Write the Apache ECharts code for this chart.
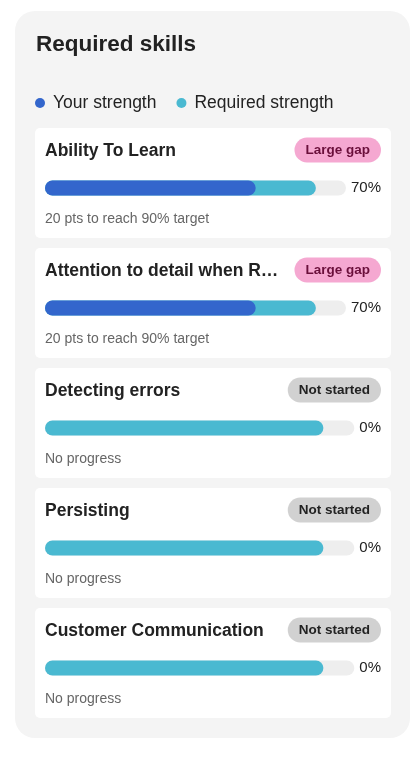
<!DOCTYPE html>
<html>
<head>
<meta charset="utf-8">
<script src="https://cdn.jsdelivr.net/npm/echarts@6/dist/echarts.min.js"></script>
<style>
html,body{margin:0;padding:0;background:#ffffff;}
#main{width:418px;height:757px;}
</style>
</head>
<body>
<div id="main"></div>
<script>
// ---- data ----
const chartTitle = "Required skills";
const skills = ["Ability To Learn", "Attention to detail when Reviewing", "Detecting errors", "Persisting", "Customer Communication"];
const yourStrength = [70, 70, 0, 0, 0];
const requiredStrength = [90, 90, 90, 90, 90];
const status = ["Large gap", "Large gap", "Not started", "Not started", "Not started"];
const legendNames = ["Your strength", "Required strength"];

// ---- styling ----
const FONT = '"Liberation Sans", Arial, sans-serif';
const BLUE = '#3366cc', CYAN = '#4ab9d1', TRACK = '#eeeeee';
const badgeStyles = {
  "Large gap": { bg: '#f5a8d1', fg: '#6a0f3b' },
  "Not started": { bg: '#d1d1d1', fg: '#222222' }
};

const chart = echarts.init(document.getElementById('main'), null, { renderer: 'canvas' });
const W = 418;
const ctx = document.createElement('canvas').getContext('2d');
ctx.font = '15px ' + FONT;

const cardX = 35, cardW = 356, cardH = 110, cardStep = 120, firstCardTop = 128;
const grids = [], xAxes = [], yAxes = [], series = [];
const graphics = [
  { type: 'rect', shape: { x: 15, y: 11, width: 395, height: 727, r: 20 }, style: { fill: '#f4f4f4' }, z: 0 },
  { type: 'text', x: 36, y: 45, style: { text: chartTitle, fontSize: 22.5, fontWeight: 'bold', fontFamily: FONT, fill: '#222', verticalAlign: 'middle' }, z: 2 }
];

skills.forEach((name, i) => {
  const top = firstCardTop + i * cardStep;
  const label = yourStrength[i] + '%';
  const lw = ctx.measureText(label).width;
  const trackRight = cardX + cardW - 10 - 5 - lw;
  grids.push({ left: 45, top: top + 52, height: 16, right: W - trackRight, containLabel: false });
  xAxes.push({ type: 'value', gridIndex: i, min: 0, max: 100, show: false });
  yAxes.push({ type: 'category', gridIndex: i, data: [name], show: false });
  const common = { type: 'bar', xAxisIndex: i, yAxisIndex: i, barWidth: 15, barGap: '-100%', silent: true, animation: false };
  series.push(Object.assign({}, common, {
    name: 'track', data: [100],
    itemStyle: { color: TRACK, borderRadius: 7.5 },
    label: { show: true, position: 'right', distance: 5, formatter: label, fontSize: 15, color: '#222', fontFamily: FONT }
  }));
  series.push(Object.assign({}, common, {
    name: legendNames[1], data: [requiredStrength[i]],
    itemStyle: { color: CYAN, borderRadius: 7.5 }
  }));
  series.push(Object.assign({}, common, {
    name: legendNames[0], data: [yourStrength[i]],
    itemStyle: { color: BLUE, borderRadius: 7.5 }
  }));

  const gap = requiredStrength[i] - yourStrength[i];
  const note = yourStrength[i] > 0 ? (gap + ' pts to reach ' + requiredStrength[i] + '% target') : 'No progress';
  const bs = badgeStyles[status[i]];
  graphics.push({ type: 'rect', shape: { x: cardX, y: top, width: cardW, height: cardH, r: 5 }, style: { fill: '#ffffff' }, z: 1 });
  graphics.push({ type: 'text', x: 45, y: top + 23, style: { text: name, width: 240, overflow: 'truncate', ellipsis: '…', fontSize: 17.5, fontWeight: 'bold', fontFamily: FONT, fill: '#222', verticalAlign: 'middle' }, z: 2 });
  graphics.push({ type: 'text', x: 381, y: top + 22, style: { text: status[i], align: 'right', verticalAlign: 'middle', fontSize: 13.5, fontWeight: 'bold', fontFamily: FONT, fill: bs.fg, backgroundColor: bs.bg, padding: [5, 11, 5, 11], lineHeight: 15, borderRadius: 12.5 }, z: 2 });
  graphics.push({ type: 'text', x: 45, y: top + 91, style: { text: note, fontSize: 14, fontFamily: FONT, fill: '#666', verticalAlign: 'middle' }, z: 2 });
});

chart.setOption({
  animation: false,
  textStyle: { fontFamily: FONT },
  legend: {
    data: legendNames.map(n => ({ name: n, icon: 'circle' })),
    left: 35, top: 94, padding: 0, itemWidth: 10, itemHeight: 10, itemGap: 20,
    selectedMode: false,
    textStyle: { fontSize: 17.5, color: '#222', fontFamily: FONT, lineHeight: 18, padding: [0, 0, 0, 3] }
  },
  graphic: { elements: graphics },
  grid: grids,
  xAxis: xAxes,
  yAxis: yAxes,
  series: series
});
</script>
</body>
</html>
